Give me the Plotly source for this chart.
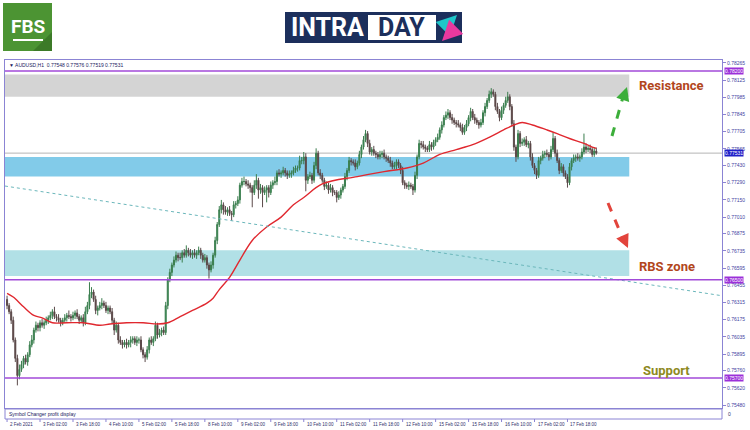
import plotly.graph_objects as go

# ---------------- data ----------------
first_open = 0.7634
closes = [
    .7629,.7624,.7617,.7601,.7586,.7572,.7577,.7581,.7586,.7583,.7589,.7597,.7601,.7609,.7613,.7611,
    .7615,.7613,.7615,.7617,.7619,.7621,.7624,.7620,.7619,.7617,.7615,.7617,.7619,.7621,.7620,.7619,
    .7621,.7623,.7620,.7617,.7619,.7615,.7624,.7629,.7638,.7640,.7634,.7625,.7627,.7629,.7631,.7629,
    .7625,.7627,.7624,.7617,.7609,.7613,.7601,.7599,.7597,.7599,.7597,.7599,.7601,.7602,.7599,.7601,
    .7601,.7593,.7589,.7587,.7593,.7601,.7599,.7602,.7613,.7605,.7607,.7609,.7607,.7629,.7650,.7656,
    .7662,.7666,.7670,.7668,.7668,.7672,.7670,.7674,.7672,.7670,.7672,.7670,.7672,.7674,.7670,.7666,
    .7668,.7662,.7658,.7662,.7670,.7682,.7695,.7707,.7711,.7707,.7705,.7707,.7704,.7703,.7711,.7712,
    .7715,.7727,.7730,.7730,.7728,.7727,.7725,.7721,.7727,.7731,.7723,.7725,.7721,.7723,.7725,.7721,
    .7727,.7729,.7730,.7737,.7736,.7737,.7739,.7737,.7735,.7736,.7737,.7739,.7741,.7741,.7747,.7747,
    .7750,.7731,.7734,.7735,.7731,.7743,.7753,.7737,.7735,.7731,.7726,.7727,.7723,.7725,.7721,.7721,
    .7717,.7719,.7723,.7726,.7734,.7739,.7747,.7746,.7745,.7742,.7745,.7752,.7758,.7764,.7769,.7761,
    .7754,.7756,.7753,.7752,.7750,.7752,.7753,.7750,.7749,.7747,.7745,.7742,.7743,.7746,.7743,.7739,
    .7729,.7727,.7726,.7727,.7726,.7723,.7735,.7750,.7761,.7760,.7758,.7757,.7756,.7760,.7758,.7762,
    .7764,.7766,.7772,.7776,.7782,.7784,.7786,.7782,.7780,.7778,.7777,.7776,.7774,.7770,.7774,.7777,
    .7782,.7787,.7782,.7780,.7778,.7776,.7778,.7786,.7791,.7796,.7801,.7803,.7801,.7791,.7787,.7782,
    .7788,.7792,.7796,.7799,.7791,.7777,.7758,.7750,.7769,.7761,.7762,.7764,.7760,.7761,.7750,.7743,
    .7739,.7735,.7747,.7749,.7752,.7753,.7752,.7750,.7756,.7765,.7753,.7747,.7739,.7742,.7737,.7734,
    .7729,.7742,.7747,.7749,.7750,.7749,.7750,.7754,.7758,.7756,.7757,.7756,.7752,.77548,.77531,
]
# upper / lower wick lengths in pips (0.0001)
up_wick = [
    3,2,2,3,2,3,4,3,2,3,2,3,4,2,3,2,
    2,3,2,3,2,3,2,4,2,3,2,2,3,2,4,2,
    3,2,3,2,2,3,4,3,10,4,2,3,2,3,4,2,
    3,2,2,3,2,3,2,3,2,2,3,2,3,2,2,3,
    2,3,2,2,3,2,3,2,3,2,3,2,3,3,2,3,
    2,3,3,2,4,2,3,4,2,3,2,3,2,3,2,2,
    3,2,2,3,2,3,2,3,4,2,3,2,3,2,3,2,
    3,2,3,4,2,3,2,2,4,5,2,3,2,3,2,2,
    3,2,4,2,3,2,3,2,2,3,2,3,2,2,4,3,
    4,3,2,3,2,3,4,2,3,2,2,3,2,3,2,2,
    2,3,2,2,3,2,3,2,2,3,2,3,2,3,3,2,
    3,2,3,2,2,3,2,3,2,2,3,2,3,2,2,2,
    3,2,2,3,2,2,3,2,3,2,3,2,2,3,2,2,
    2,3,2,3,2,3,3,2,3,2,2,3,2,3,2,3,
    2,3,2,3,2,2,3,2,3,2,3,3,2,2,3,2,
    3,2,3,4,2,2,3,2,3,2,3,2,3,2,2,3,
    2,2,3,2,3,2,3,2,3,5,2,3,2,3,2,2,
    2,3,2,3,2,3,2,3,11,3,2,3,2,3,3,
]
down_wick = [
    3,2,3,2,3,8,3,2,3,2,3,2,2,3,2,3,
    3,2,3,2,3,2,3,2,3,2,3,2,2,3,2,3,
    2,3,2,3,2,3,2,2,3,3,2,3,4,2,3,2,
    2,3,2,3,4,2,3,2,3,2,3,2,4,3,2,3,
    3,2,3,4,2,3,2,3,2,3,2,3,2,2,3,2,
    3,2,2,3,2,4,2,2,3,2,3,2,3,2,3,2,
    2,3,7,2,3,2,3,2,3,4,2,3,2,5,2,3,
    2,3,2,3,2,3,4,12,2,3,7,3,12,2,10,4,
    2,3,2,3,2,3,2,3,3,2,3,2,2,3,2,3,
    3,9,3,2,3,2,3,2,3,2,3,2,3,2,3,2,
    4,2,3,2,2,3,2,3,2,3,2,2,3,2,2,3,
    2,3,2,3,2,2,3,2,3,2,3,2,2,3,2,3,
    2,3,2,3,2,4,2,3,2,3,2,3,2,2,3,2,
    3,2,2,3,2,2,3,2,3,2,3,2,3,2,2,3,
    2,3,2,3,2,3,2,2,3,2,2,3,2,3,2,3,
    2,3,2,2,3,2,3,4,2,3,2,3,2,3,3,2,
    3,3,2,3,2,3,2,3,2,2,3,2,3,2,3,2,
    4,2,3,2,3,2,3,2,2,3,2,3,2,2,2,
]
header_ohlc = [0.77548, 0.77576, 0.77519, 0.77531]

# moving average (read at selected bars)
ma_idx = [0,3,8,13,17,22,29,37,45,50,58,66,73,78,84,90,97,100,103,108,
          113,119,126,133,139,144,153,170,183,194,202,210,218,226,234,241,246,250,255,262,
          267,273,280,284,286]
ma_val = [.7639,.7636,.7628,.7621,.7619,.7615,.7615,.7615,.7613,.7614,
          .7615,.7615,.7614,.7615,.7620,.7625,.7631,.7635,.7642,.7652,
          .7666,.7682,.7693,.7701,.7711,.7717,.7728,.7734,.7738,.7741,
          .7745,.7752,.7756,.7760,.7766,.7772,.7776,.7778,.7776,.7772,
          .7769,.7765,.7761,.7758,.7757]

time_labels = ["2 Feb 2021","3 Feb 02:00","3 Feb 18:00","4 Feb 10:00","5 Feb 02:00","5 Feb 18:00",
               "8 Feb 10:00","9 Feb 02:00","9 Feb 18:00","10 Feb 10:00","11 Feb 02:00","11 Feb 18:00",
               "12 Feb 10:00","15 Feb 02:00","15 Feb 18:00","16 Feb 10:00","17 Feb 02:00","17 Feb 18:00"]
label_step = 16

ytick_vals = [0.78265,0.78125,0.77985,0.77845,0.77705,0.77565,0.77430,0.77290,0.77150,0.77010,
              0.76875,0.76735,0.76595,0.76455,0.76315,0.76175,0.76035,0.75895,0.75760,0.75620,0.75480]

resistance_zone = [0.7799, 0.7817]
blue_zone = [0.7734, 0.7750]
rbs_zone = [0.7653, 0.7674]
resistance_level = 0.78200
rbs_level = 0.76500
support_level = 0.75700
current_price = 0.77531
trend_line = [0.77263, 0.76370]

# ---------------- build ----------------
n = len(closes)
idx = list(range(n))
opens = [first_open] + closes[:-1]
highs = [max(o, c) + u * 0.0001 for o, c, u in zip(opens, closes, up_wick)]
lows = [min(o, c) - d * 0.0001 for o, c, d in zip(opens, closes, down_wick)]
opens[-1], highs[-1], lows[-1], closes[-1] = header_ohlc

X0, X1 = -1, 347
Y0, Y1 = 0.75456, 0.78289
FRAME = "#8b84d4"
PURPLE = "#a24ad8"
SMALL = "Liberation Sans"

def PX(x):
    return (x - 5) / 717.0

def PY(y):
    return (408 - y) / 348.0

fig = go.Figure()
fig.add_trace(go.Candlestick(
    x=idx, open=opens, high=highs, low=lows, close=closes,
    increasing=dict(line=dict(color="#3b7d4e", width=1), fillcolor="#2f9a55"),
    decreasing=dict(line=dict(color="#5b4a4a", width=1), fillcolor="#4a2222"),
    whiskerwidth=0, showlegend=False, hoverinfo="skip"))
fig.add_trace(go.Scatter(x=ma_idx, y=ma_val, mode="lines", line=dict(color="#e0282f", width=1.4, shape="spline"),
                         showlegend=False, hoverinfo="skip"))
fig.add_trace(go.Scatter(x=[X0, X1], y=trend_line, mode="lines", line=dict(color="#6bb7bb", width=1, dash="dot"),
                         showlegend=False, hoverinfo="skip"))

shapes = []
for zone, col in [(resistance_zone, "#d4d4d4"), (blue_zone, "#82cbe9"), (rbs_zone, "#b1e0e6")]:
    shapes.append(dict(type="rect", xref="x", yref="y", x0=X0, x1=302, y0=zone[0], y1=zone[1],
                       fillcolor=col, line=dict(width=0), layer="below"))
shapes.append(dict(type="line", xref="x", yref="y", x0=X0, x1=X1, y0=current_price, y1=current_price,
                   line=dict(color="#b4b4b4", width=1), layer="below"))
for lv in [resistance_level, rbs_level, support_level]:
    shapes.append(dict(type="line", xref="x", yref="y", x0=X0, x1=X1, y0=lv, y1=lv,
                       line=dict(color=PURPLE, width=1.6)))

# dashed arrows
shapes.append(dict(type="line", xref="paper", yref="paper", x0=PX(612), y0=PY(136), x1=PX(623), y1=PY(97),
                   line=dict(color="#3cae3a", width=3, dash="dash")))
shapes.append(dict(type="line", xref="paper", yref="paper", x0=PX(608), y0=PY(203), x1=PX(623), y1=PY(239),
                   line=dict(color="#e2443c", width=3, dash="dash")))

# subwindow
shapes.append(dict(type="rect", xref="paper", yref="paper", x0=0, x1=1, y0=PY(419), y1=PY(409),
                   line=dict(color=FRAME, width=1)))
for k in range(len(time_labels)):
    shapes.append(dict(type="line", xref="x", yref="paper", x0=k * label_step, x1=k * label_step,
                       y0=PY(419), y1=PY(422), line=dict(color=FRAME, width=1)))

# FBS logo
shapes.append(dict(type="rect", xref="paper", yref="paper", x0=PX(3), x1=PX(52), y0=PY(51), y1=PY(3),
                   fillcolor="#4c9433", line=dict(width=0)))
shapes.append(dict(type="path", xref="paper", yref="paper",
                   path=f"M {PX(43)},{PY(41)} L {PX(52)},{PY(32)} L {PX(52)},{PY(51)} L {PX(33)},{PY(51)} Z",
                   fillcolor="#3c7a28", line=dict(width=0)))
shapes.append(dict(type="rect", xref="paper", yref="paper", x0=PX(13), x1=PX(43), y0=PY(41), y1=PY(39),
                   fillcolor="white", line=dict(width=0)))
# INTRADAY logo
shapes.append(dict(type="rect", xref="paper", yref="paper", x0=PX(285), x1=PX(462), y0=PY(43), y1=PY(12),
                   fillcolor="#1c2f5c", line=dict(width=0)))
shapes.append(dict(type="rect", xref="paper", yref="paper", x0=PX(368), x1=PX(436), y0=PY(40), y1=PY(15),
                   fillcolor="white", line=dict(width=0)))

ann = []
for k, t in enumerate(time_labels):
    ann.append(dict(x=k * label_step, y=PY(424), xref="x", yref="paper", text=t, showarrow=False,
                    xanchor="left", yanchor="middle", xshift=1, font=dict(size=4.5, color="#30306a", family=SMALL)))
for lv, txt, col in [(resistance_level, "0.78200", "#9b30d9"), (current_price, "0.77531", "#2020c8"),
                     (rbs_level, "0.76500", "#9b30d9"), (support_level, "0.75700", "#9b30d9")]:
    ann.append(dict(x=1, y=lv, xref="paper", yref="y", text=txt, showarrow=False, xanchor="left",
                    yanchor="middle", xshift=2, bgcolor=col, borderpad=0,
                    font=dict(size=5, color="white", family=SMALL)))
ann.append(dict(x=PX(7), y=PY(65), xref="paper", yref="paper", text="▼ AUDUSD,H1  0.77548 0.77576 0.77519 0.77531",
                showarrow=False, xanchor="left", yanchor="middle", font=dict(size=5, color="#202060", family=SMALL)))
ann.append(dict(x=PX(7), y=PY(414), xref="paper", yref="paper", text="Symbol Changer profit display",
                showarrow=False, xanchor="left", yanchor="middle", font=dict(size=5, color="#202060", family=SMALL)))
ann.append(dict(x=1, y=PY(414), xref="paper", yref="paper", text="0", showarrow=False, xanchor="left",
                yanchor="middle", xshift=4, font=dict(size=5, color="#30306a", family=SMALL)))
for txt, x, y, col in [("Resistance", 637, 86, "#b2461c"), ("RBS zone", 637, 266, "#b2461c"),
                       ("Support", 641, 370, "#8e8a1f")]:
    ann.append(dict(x=PX(x), y=PY(y), xref="paper", yref="paper", text=f"<b>{txt}</b>", showarrow=False,
                    xanchor="left", yanchor="middle", font=dict(size=13, color=col, family="Roboto")))
# arrow heads
ann.append(dict(x=PX(627), y=PY(87), xref="paper", yref="paper", ax=-4, ay=12, showarrow=True, text="",
                arrowhead=2, arrowsize=0.9, arrowwidth=3, arrowcolor="#3cae3a"))
ann.append(dict(x=PX(628), y=PY(248), xref="paper", yref="paper", ax=-5, ay=-11, showarrow=True, text="",
                arrowhead=2, arrowsize=0.9, arrowwidth=3, arrowcolor="#e2443c"))
# logos text
ann.append(dict(x=PX(28), y=PY(27), xref="paper", yref="paper", text="<b>FBS</b>", showarrow=False,
                xanchor="center", yanchor="middle", font=dict(size=19, color="white", family="Roboto")))
ann.append(dict(x=PX(289), y=PY(28), xref="paper", yref="paper", text="<b>INTRA</b>", showarrow=False,
                xanchor="left", yanchor="middle", font=dict(size=25, color="white", family="Roboto")))
ann.append(dict(x=PX(402), y=PY(28), xref="paper", yref="paper", text="<b>DAY</b>", showarrow=False,
                xanchor="center", yanchor="middle", font=dict(size=25, color="#1c2f5c", family="Roboto")))
ann.append(dict(x=PX(457), y=PY(15), xref="paper", yref="paper", ax=-13, ay=13, showarrow=True, text="",
                arrowhead=2, arrowsize=0.8, arrowwidth=5, arrowcolor="#1ec6c9"))
ann.append(dict(x=PX(442), y=PY(41), xref="paper", yref="paper", ax=13, ay=-13, showarrow=True, text="",
                arrowhead=2, arrowsize=0.8, arrowwidth=5, arrowcolor="#e8399e"))

fig.update_layout(
    template="none",
    width=750, height=430, margin=dict(l=5, r=28, t=60, b=22, pad=0, autoexpand=False),
    paper_bgcolor="white", plot_bgcolor="white", showlegend=False,
    shapes=shapes, annotations=ann,
    xaxis=dict(range=[X0, X1], showticklabels=False, showgrid=False, zeroline=False, showline=True,
               linecolor=FRAME, linewidth=1, mirror=True, rangeslider=dict(visible=False), ticks="",
               automargin=False),
    yaxis=dict(range=[Y0, Y1], side="right", tickvals=ytick_vals, ticktext=[f"{v:.5f}" for v in ytick_vals],
               tickfont=dict(size=5, color="#3f3f9f", family=SMALL), ticks="outside", ticklen=3,
               tickcolor=FRAME, showline=True, linecolor=FRAME, linewidth=1, mirror=True,
               showgrid=False, zeroline=False, automargin=False),
)
fig.write_html("out.html", config={"displayModeBar": False, "staticPlot": True},
               post_script="document.body.style.margin='0';document.body.style.overflow='hidden';")
